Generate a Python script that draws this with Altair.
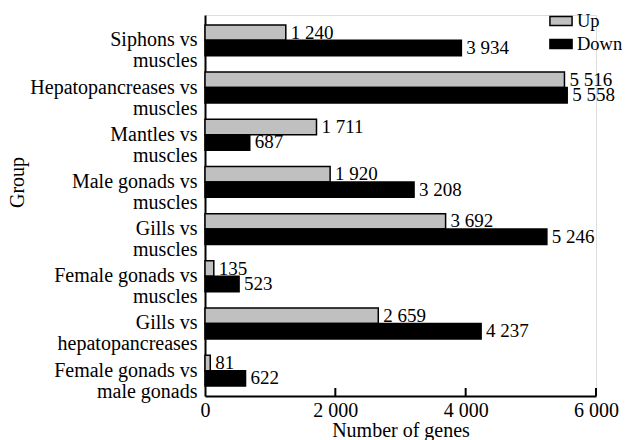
import altair as alt
import pandas as pd

groups = [
    "Siphons vs\nmuscles",
    "Hepatopancreases vs\nmuscles",
    "Mantles vs\nmuscles",
    "Male gonads vs\nmuscles",
    "Gills vs\nmuscles",
    "Female gonads vs\nmuscles",
    "Gills vs\nhepatopancreases",
    "Female gonads vs\nmale gonads",
]
up = [1240, 5516, 1711, 1920, 3692, 135, 2659, 81]
down = [3934, 5558, 687, 3208, 5246, 523, 4237, 622]
types = ["Up", "Down"]
tick_values = [2000, 4000, 6000]

rows = []
for g, u, d in zip(groups, up, down):
    rows.append({"Group": g, "Type": "Up", "Genes": u})
    rows.append({"Group": g, "Type": "Down", "Genes": d})
df = pd.DataFrame(rows)
df["Label"] = df["Genes"].map(lambda v: f"{v:,}".replace(",", " "))

FONT = "Liberation Serif"
AFS = 20
FS = 19
W, H = 391, 381

base = alt.Chart(df).encode(
    y=alt.Y("Group:N", sort=groups,
            scale=alt.Scale(paddingInner=0.345, paddingOuter=0.21),
            axis=alt.Axis(title="Group", labelExpr="split(datum.label, '\\n')",
                          labelLineHeight=21, ticks=False, labelPadding=8,
                          titleX=-178, titleY=167, labelFontSize=AFS, titleFontSize=AFS,
                          labelColor="black", titleColor="black",
                          titleFontWeight="normal", domainColor="black",
                          domainWidth=2, labelFont=FONT, titleFont=FONT)),
    yOffset=alt.YOffset("Type:N", sort=types, scale=alt.Scale(paddingInner=0, paddingOuter=0)),
)

xenc = alt.X("Genes:Q", scale=alt.Scale(domain=[0, 6000], nice=False),
             axis=alt.Axis(title="Number of genes", values=[0, 2000, 4000, 6000],
                           labelExpr="replace(format(datum.value, ','), ',', ' ')",
                           ticks=False, grid=False, labelPadding=4, titlePadding=0,
                           labelFontSize=AFS, titleFontSize=AFS, labelColor="black",
                           titleColor="black", titleFontWeight="normal",
                           domainColor="black", domainWidth=2,
                           labelFont=FONT, titleFont=FONT, labelFlush=False))

bars = base.mark_bar(stroke="black", strokeWidth=1.5).encode(
    x=xenc,
    color=alt.Color("Type:N", sort=types,
                    scale=alt.Scale(domain=types, range=["#c0c0c0", "#000000"]),
                    legend=alt.Legend(title=None, orient="none", legendX=346, legendY=-4,
                                      symbolType="M-1.2,-0.5H1.2V0.5H-1.2Z",
                                      symbolSize=340, symbolStrokeColor="black",
                                      symbolStrokeWidth=1.5, labelFontSize=18.5,
                                      labelFont=FONT, labelColor="black",
                                      rowPadding=3, labelOffset=6)),
)

labels = base.mark_text(align="left", baseline="middle", dx=5, font=FONT,
                        fontSize=FS, color="black").encode(
    x=alt.X("Genes:Q"),
    text="Label:N",
)

ticks_df = pd.DataFrame({"v": tick_values})
ticks = alt.Chart(ticks_df).mark_rule(color="black", strokeWidth=2).encode(
    x=alt.X("v:Q"),
    y=alt.value(H - 8),
    y2=alt.value(H),
)

chart = alt.layer(bars, labels, ticks).properties(
    width=W, height=H,
    autosize=alt.AutoSizeParams(type="none"),
    padding={"left": 197, "top": 7, "right": 26, "bottom": 44},
).configure_view(stroke=None).configure(background="white")

chart.save("out.html", embed_options={"renderer": "svg", "actions": False})
